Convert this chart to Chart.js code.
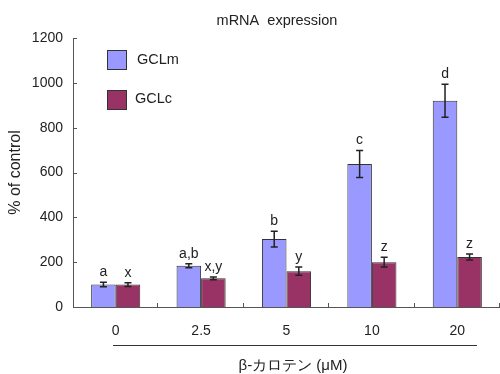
<!DOCTYPE html>
<html>
<head>
<meta charset="utf-8">
<script src="https://cdn.jsdelivr.net/npm/chart.js@4"></script>
<style>
  body { margin: 0; background: #fff; }
  #wrap { width: 500px; height: 374px; position: relative; }
</style>
</head>
<body>
<div id="wrap"><canvas id="chart"></canvas></div>
<script>
// data
const doses = ["0", "2.5", "5", "10", "20"];
const gclmValues = [100, 184, 303, 638, 920];
const gclmErrors = [10, 9, 35, 60, 74];
const gclmLetters = ["a", "a,b", "b", "c", "d"];
const gclcValues = [100, 128, 160, 200, 223];
const gclcErrors = [8, 6, 18, 22, 13];
const gclcLetters = ["x", "x,y", "y", "z", "z"];
const yTicks = [0, 200, 400, 600, 800, 1000, 1200];

const FONT = "'Liberation Sans', Arial, sans-serif";
const BLUE = "#9999ff";
const WINE = "#993366";

// error bars + letters
const errorBars = {
  id: "errorBars",
  afterDatasetsDraw(chart) {
    const ctx = chart.ctx;
    const y = chart.scales.y;
    const sets = [[gclmErrors, gclmLetters], [gclcErrors, gclcLetters]];
    ctx.save();
    sets.forEach(([errs, letters], di) => {
      const meta = chart.getDatasetMeta(di);
      const vals = chart.data.datasets[di].data;
      meta.data.forEach((bar, i) => {
        const top = y.getPixelForValue(vals[i] + errs[i]);
        const bot = y.getPixelForValue(vals[i] - errs[i]);
        ctx.strokeStyle = "#222";
        ctx.lineWidth = 1.5;
        ctx.beginPath();
        ctx.moveTo(bar.x, top); ctx.lineTo(bar.x, bot);
        ctx.moveTo(bar.x - 3.5, top); ctx.lineTo(bar.x + 3.5, top);
        ctx.moveTo(bar.x - 3.5, bot); ctx.lineTo(bar.x + 3.5, bot);
        ctx.stroke();
        ctx.fillStyle = "#222";
        ctx.font = "14px " + FONT;
        ctx.textAlign = "center";
        ctx.textBaseline = "bottom";
        ctx.fillText(letters[i], bar.x, top - 3);
      });
    });
    ctx.restore();
  }
};

// axes ticks (inward), legend, title, underline, x title
const decorations = {
  id: "decorations",
  afterDraw(chart) {
    const ctx = chart.ctx;
    const area = chart.chartArea;
    const y = chart.scales.y;
    ctx.save();
    ctx.strokeStyle = "#555";
    ctx.lineWidth = 1;
    ctx.beginPath();
    yTicks.forEach(v => {
      const py = Math.round(y.getPixelForValue(v)) + 0.5;
      ctx.moveTo(area.left, py); ctx.lineTo(area.left + 4, py);
    });
    const step = (area.right - area.left) / doses.length;
    for (let i = 1; i <= doses.length; i++) {
      const px = Math.round(area.left + step * i) - 0.5;
      ctx.moveTo(px, area.bottom); ctx.lineTo(px, area.bottom - 4);
    }
    ctx.stroke();

    // legend
    ctx.strokeStyle = "#333";
    ctx.fillStyle = BLUE;
    ctx.fillRect(107, 50, 19, 19);
    ctx.strokeRect(107.5, 50.5, 19, 19);
    ctx.fillStyle = WINE;
    ctx.fillRect(107, 90, 19, 19);
    ctx.strokeRect(107.5, 90.5, 19, 19);
    ctx.fillStyle = "#222";
    ctx.font = "14.5px " + FONT;
    ctx.textAlign = "left";
    ctx.textBaseline = "middle";
    ctx.fillText("GCLm", 137, 60);
    ctx.fillText("GCLc", 135, 99);

    // title
    ctx.font = "14.5px " + FONT;
    ctx.textAlign = "center";
    ctx.fillText("mRNA  expression", 277, 21);

    // underline and x title
    ctx.strokeStyle = "#333";
    ctx.beginPath();
    ctx.moveTo(113, 345.5); ctx.lineTo(477, 345.5);
    ctx.stroke();
    ctx.font = "15px " + FONT;
    ctx.fillText("β-カロテン (μM)", 293, 366);
    ctx.restore();
  }
};

new Chart(document.getElementById("chart"), {
  type: "bar",
  data: {
    labels: doses,
    datasets: [
      { label: "GCLm", data: gclmValues, backgroundColor: BLUE, borderColor: "#333", borderWidth: 1 },
      { label: "GCLc", data: gclcValues, backgroundColor: WINE, borderColor: "#333", borderWidth: 1 }
    ]
  },
  options: {
    responsive: true,
    maintainAspectRatio: false,
    animation: false,
    layout: { padding: { top: 38, right: 0, bottom: 0, left: 0 } },
    datasets: { bar: { barPercentage: 1, categoryPercentage: 0.575 } },
    plugins: { legend: { display: false }, tooltip: { enabled: false } },
    scales: {
      x: {
        grid: { display: false, drawTicks: false },
        border: { display: true, color: "#555" },
        ticks: { color: "#222", font: { family: FONT, size: 14 }, padding: 16 },
        afterFit(s) { s.height = 67; }
      },
      y: {
        min: 0, max: 1200,
        grid: { display: false, drawTicks: false },
        border: { display: true, color: "#555" },
        ticks: { stepSize: 200, color: "#222", font: { family: FONT, size: 14 }, padding: 10,
                 callback: v => String(v) },
        title: { display: true, text: "% of control", color: "#222", font: { family: FONT, size: 16 }, padding: { top: 6, bottom: 0 } },
        afterFit(s) { s.width = 73; }
      }
    }
  },
  plugins: [errorBars, decorations]
});
</script>
</body>
</html>
